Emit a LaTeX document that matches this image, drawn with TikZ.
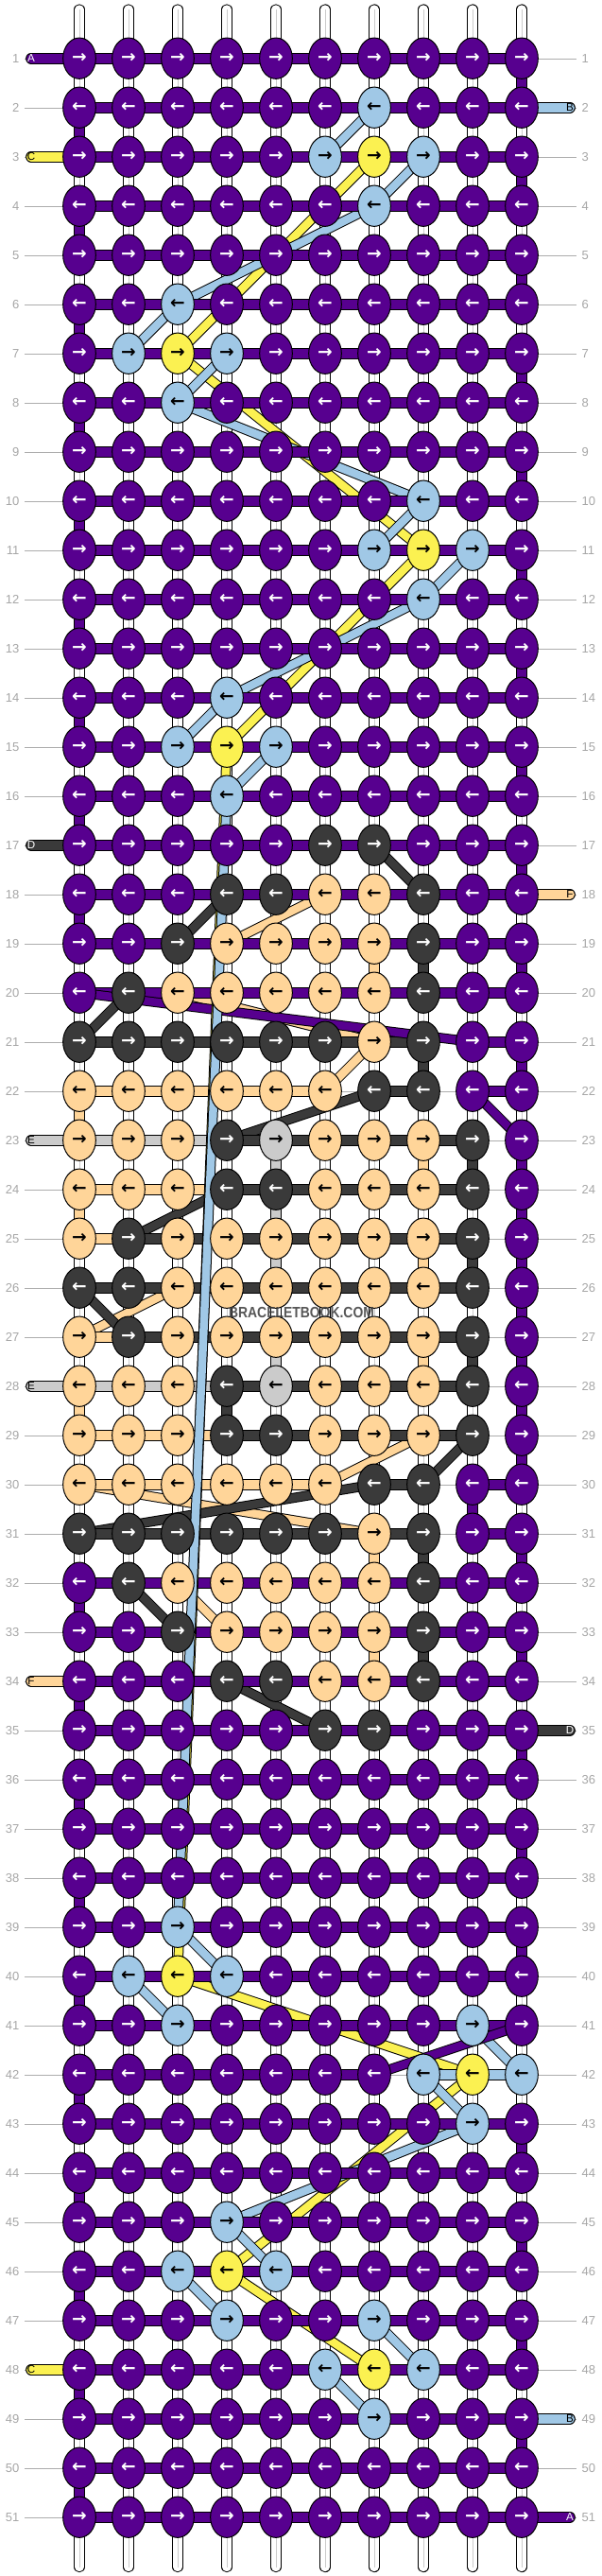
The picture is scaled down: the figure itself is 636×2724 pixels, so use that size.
\documentclass[tikz,border=0pt]{standalone}
\usepackage{graphicx}
\usepackage{fontspec}
\setmainfont{Liberation Sans}
\newfontfamily\arrowfont{DejaVu Sans}
\usepackage{tikz}
\usetikzlibrary{shapes.geometric}
\definecolor{colA}{HTML}{57008F}
\definecolor{colB}{HTML}{A0C8E6}
\definecolor{colC}{HTML}{FBF151}
\definecolor{colD}{HTML}{3A3A3A}
\definecolor{colE}{HTML}{CBCBCB}
\definecolor{colF}{HTML}{FFD599}
\definecolor{numgray}{HTML}{A6A6A6}
\pgfdeclarelayer{guide}
\pgfdeclarelayer{verts}
\pgfdeclarelayer{diags}
\pgfdeclarelayer{horiz}
\pgfdeclarelayer{longs}
\pgfsetlayers{guide,verts,diags,horiz,longs,main}
\tikzset{
  knot/.style={ellipse,draw=black,line width=.75pt,minimum width=26pt,minimum height=32.5pt,inner sep=0pt,
    font=\arrowfont\bfseries\fontsize{14pt}{14pt}\selectfont},
  knotA/.style={fill=colA,text=white},
  knotB/.style={fill=colB,text=black},
  knotC/.style={fill=colC,text=black},
  knotD/.style={fill=colD,text=white},
  knotE/.style={fill=colE,text=black},
  knotF/.style={fill=colF,text=black},
  hstrand/.style={draw=black,line width=.75pt,double distance=7.3pt},
  vstrand/.style={draw=black,line width=.75pt,double distance=7pt},
  dstrand/.style={draw=black,line width=.75pt,double distance=6.4pt},
  rownum/.style={text=numgray,font=\fontsize{9.75pt}{9.75pt}\selectfont,inner sep=0pt},
  taillabel/.style={font=\fontsize{8.7pt}{8.7pt}\selectfont,inner sep=0pt},
}
\begin{document}
\begin{tikzpicture}[x=.75pt,y=-.75pt]
    \useasboundingbox (0,0) rectangle (636,2724);

    % Knots
    \foreach \rw/\row in {
        1/{A,A,A,A,A,A,A,A,A,A},  2/{A,A,A,A,A,A,B,A,A,A},  3/{A,A,A,A,A,B,C,B,A,A},
        4/{A,A,A,A,A,A,B,A,A,A},  5/{A,A,A,A,A,A,A,A,A,A},  6/{A,A,B,A,A,A,A,A,A,A},
        7/{A,B,C,B,A,A,A,A,A,A},  8/{A,A,B,A,A,A,A,A,A,A},  9/{A,A,A,A,A,A,A,A,A,A},
        10/{A,A,A,A,A,A,A,B,A,A}, 11/{A,A,A,A,A,A,B,C,B,A}, 12/{A,A,A,A,A,A,A,B,A,A},
        13/{A,A,A,A,A,A,A,A,A,A}, 14/{A,A,A,B,A,A,A,A,A,A}, 15/{A,A,B,C,B,A,A,A,A,A},
        16/{A,A,A,B,A,A,A,A,A,A}, 17/{A,A,A,A,A,D,D,A,A,A}, 18/{A,A,A,D,D,F,F,D,A,A},
        19/{A,A,D,F,F,F,F,D,A,A}, 20/{A,D,F,F,F,F,F,D,A,A}, 21/{D,D,D,D,D,D,F,D,A,A},
        22/{F,F,F,F,F,F,D,D,A,A}, 23/{F,F,F,D,E,F,F,F,D,A}, 24/{F,F,F,D,D,F,F,F,D,A},
        25/{F,D,F,F,F,F,F,F,D,A}, 26/{D,D,F,F,F,F,F,F,D,A}, 27/{F,D,F,F,F,F,F,F,D,A},
        28/{F,F,F,D,E,F,F,F,D,A}, 29/{F,F,F,D,D,F,F,F,D,A}, 30/{F,F,F,F,F,F,D,D,A,A},
        31/{D,D,D,D,D,D,F,D,A,A}, 32/{A,D,F,F,F,F,F,D,A,A}, 33/{A,A,D,F,F,F,F,D,A,A},
        34/{A,A,A,D,D,F,F,D,A,A}, 35/{A,A,A,A,A,D,D,A,A,A}, 36/{A,A,A,A,A,A,A,A,A,A},
        37/{A,A,A,A,A,A,A,A,A,A}, 38/{A,A,A,A,A,A,A,A,A,A}, 39/{A,A,B,A,A,A,A,A,A,A},
        40/{A,B,C,B,A,A,A,A,A,A}, 41/{A,A,B,A,A,A,A,A,B,A}, 42/{A,A,A,A,A,A,A,B,C,B},
        43/{A,A,A,A,A,A,A,A,B,A}, 44/{A,A,A,A,A,A,A,A,A,A}, 45/{A,A,A,B,A,A,A,A,A,A},
        46/{A,A,B,C,B,A,A,A,A,A}, 47/{A,A,A,B,A,A,B,A,A,A}, 48/{A,A,A,A,A,B,C,B,A,A},
        49/{A,A,A,A,A,A,B,A,A,A}, 50/{A,A,A,A,A,A,A,A,A,A}, 51/{A,A,A,A,A,A,A,A,A,A}} {
        \foreach \kc [count=\col] in \row {
            \node[knot,knot\kc] (k\rw-\col) at ({84+52*(\col-1)},{61.7+52*(\rw-1)}) {\ifodd\rw →\else ←\fi};
        }
    }

    % Row numbers and thin guide lines
    \foreach \rw in {1,...,51} {
        \coordinate (gl\rw) at (26,{62.2+52*(\rw-1)});
        \coordinate (gr\rw) at (610,{62.2+52*(\rw-1)});
        \node[rownum,anchor=east] (numl\rw) at (20.7,{61.7+52*(\rw-1)}) {\rw};
        \node[rownum,anchor=west] (numr\rw) at (615.3,{61.7+52*(\rw-1)}) {\rw};
    }
    \begin{pgfonlayer}{guide}
        \foreach \rw in {1,...,51} {
            \draw[colE!85!black,line width=.75pt] (gl\rw) -- (gr\rw);
        }
    \end{pgfonlayer}

    % White warp strands
    \begin{pgfonlayer}{verts}
        \foreach \col in {1,...,10} {
            \coordinate (top\col) at ({84+52*(\col-1)},10);
            \coordinate (bot\col) at ({84+52*(\col-1)},2714.5);
            \draw[vstrand,double=white,line cap=round] (top\col) -- (bot\col);
            \draw[colE,line width=.75pt] (top\col) -- (bot\col);
        }
        % Coloured stubs between two rows
        \foreach \rw [evaluate=\rw as \nx using int(\rw+1)] in {1,3,...,39,43,45,47,49} {
            \draw[vstrand,double=colA] (k\rw-10.center) -- (k\nx-10.center);
        }
        \foreach \rw [evaluate=\rw as \nx using int(\rw+1)] in {2,4,...,18,32,34,...,50} {
            \draw[vstrand,double=colA] (k\rw-1.center) -- (k\nx-1.center);
        }
        \foreach \kc/\a/\b in {
            A/24-10/25-10, A/26-10/27-10, A/28-10/29-10, A/30-9/31-9,
            F/22-1/23-1, F/24-1/25-1, F/28-1/29-1, F/19-7/20-7, F/31-7/32-7, F/33-7/34-7,
            F/23-8/24-8, F/25-8/26-8, F/27-8/28-8,
            D/19-8/20-8, D/21-8/22-8, D/31-8/32-8, D/33-8/34-8, D/28-4/29-4,
            D/23-9/24-9, D/25-9/26-9, D/27-9/28-9,
            E/23-5/24-5, E/24-5/25-5, E/25-5/26-5, E/27-5/28-5} {
            \draw[vstrand,double=col\kc] (k\a.center) -- (k\b.center);
        }
    \end{pgfonlayer}

    % Diagonals under the rows
    \begin{pgfonlayer}{diags}
        \foreach \kc/\a/\b in {
            C/3-7/7-3, C/7-3/11-8, C/11-8/15-4, C/40-3/42-9, C/42-9/46-4, C/46-4/48-7,
            B/2-7/3-6, B/3-8/4-7, B/4-7/6-3, B/6-3/7-2, B/7-4/8-3, B/8-3/10-8, B/10-8/11-7,
            B/11-9/12-8, B/12-8/14-4, B/14-4/15-3, B/15-5/16-4, B/39-3/40-4, B/40-2/41-3,
            B/41-9/42-10, B/42-8/43-9, B/43-9/45-4, B/45-4/46-5, B/46-3/47-4, B/47-7/48-8, B/48-6/49-7,
            F/18-6/19-4, F/21-7/22-6, F/20-3/21-7, F/26-3/27-1, F/29-8/30-6, F/30-1/31-7, F/32-3/33-4,
            D/17-7/18-8, D/18-4/19-3, D/20-2/21-1, D/22-7/23-4, D/24-4/25-2, D/26-1/27-2,
            D/29-9/30-8, D/30-7/31-1, D/32-2/33-3, D/34-4/35-6} {
            \draw[dstrand,double=col\kc] (k\a.center) -- (k\b.center);
        }
    \end{pgfonlayer}

    % Horizontal rows
    \begin{pgfonlayer}{horiz}
        \foreach \rw in {1,...,20,32,33,...,41,43,44,...,51} {
            \draw[hstrand,double=colA] (k\rw-1.center) -- (k\rw-10.center);
        }
        \foreach \rw/\a/\b/\kc in {
            21/1/8/D, 21/9/10/A, 22/1/6/F, 22/7/8/D, 22/9/10/A, 23/1/4/E, 23/4/9/D,
            24/1/4/F, 24/4/9/D, 25/1/2/F, 25/2/9/D, 26/1/9/D, 27/1/2/F, 27/2/9/D,
            28/1/4/E, 28/4/9/D, 29/1/4/F, 29/4/9/D, 30/1/6/F, 30/7/8/D, 30/9/10/A,
            31/1/8/D, 31/9/10/A, 42/1/7/A, 42/8/10/B} {
            \draw[hstrand,double=col\kc] (k\rw-\a.center) -- (k\rw-\b.center);
        }
    \end{pgfonlayer}

    % Long strands over the rows
    \begin{pgfonlayer}{longs}
        \draw[dstrand,double=colA] (k20-1.center) -- (k21-9.center);
        \draw[dstrand,double=colA] (k22-9.center) -- (k23-10.center);
        \draw[dstrand,double=colA] (k41-10.center) -- (k42-7.center);
        \draw[dstrand,double=colC] (k15-4.center) -- (k40-3.center);
        \draw[dstrand,double=colB] (k16-4.center) -- (k39-3.center);
    \end{pgfonlayer}

    % Tails with their letters
    \foreach \rw/\kc/\txt in {1/A/white, 3/C/black, 17/D/white, 23/E/black, 28/E/black, 34/F/black, 48/C/black} {
        \node[taillabel,text=\txt] (tl\rw) at (33,{61.7+52*(\rw-1)}) {\kc};
        \begin{pgfonlayer}{horiz}
            \draw[hstrand,double=col\kc,line cap=round] (tl\rw.center) -- (k\rw-1.center);
        \end{pgfonlayer}
    }
    \foreach \rw/\kc/\txt in {2/B/black, 18/F/black, 35/D/white, 49/B/black, 51/A/white} {
        \node[taillabel,text=\txt] (tr\rw) at (603,{61.7+52*(\rw-1)}) {\kc};
        \begin{pgfonlayer}{horiz}
            \draw[hstrand,double=col\kc,line cap=round] (k\rw-10.center) -- (tr\rw.center);
        \end{pgfonlayer}
    }

    % Watermark
    \node[text=colD,opacity=.85,inner sep=0pt,font=\bfseries\fontsize{12pt}{12pt}\selectfont] (mark) at (319,1387.7) {\scalebox{.87}[1]{BRACELETBOOK.COM}};
\end{tikzpicture}
\end{document}
